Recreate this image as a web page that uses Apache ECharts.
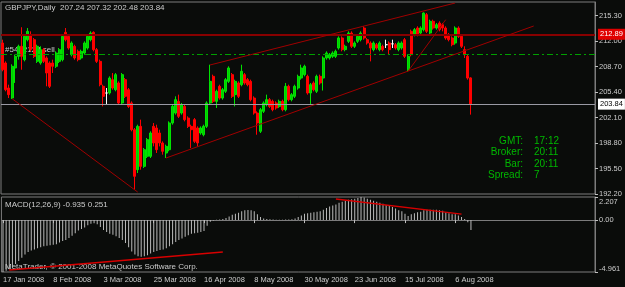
<!DOCTYPE html>
<html>
<head>
<meta charset="utf-8">
<script src="https://cdn.jsdelivr.net/npm/echarts@6/dist/echarts.min.js"></script>
<style>
  html, body { margin: 0; padding: 0; background: #0a0c0a; }
  #main { width: 625px; height: 287px; }
</style>
</head>
<body>
<div id="main"></div>
<script>
// x axis tick labels, one every 16 daily bars
const tickLabels = ["17 Jan 2008", "8 Feb 2008", "3 Mar 2008", "25 Mar 2008", "16 Apr 2008",
  "8 May 2008", "30 May 2008", "23 Jun 2008", "15 Jul 2008", "6 Aug 2008"]
const priceTicks = [192.20, 195.50, 198.80, 202.10, 205.40, 208.70, 212.00, 215.30]
const macdTicks = [-4.961, 0, 2.207]

// daily GBPJPY bars
const open = [211.76,209.17,205.93,204.63,208.52,210.03,211.33,209.60,212.19,212.84,
  212.19,209.38,209.17,210.90,209.82,209.17,209.17,208.74,209.38,209.60,
  213.14,212.62,210.25,211.33,210.68,209.82,210.46,211.11,212.19,213.14,
  210.90,209.38,206.15,205.28,205.28,207.01,205.71,206.58,203.99,207.01,
  205.71,203.99,200.53,195.35,200.96,195.78,197.08,197.08,200.96,200.75,
  200.10,198.81,197.51,197.94,201.40,202.69,204.20,202.69,203.55,202.04,
  200.96,201.83,200.75,200.10,199.88,200.96,203.99,207.44,204.20,206.15,
  204.63,205.50,206.79,207.66,205.07,206.58,206.36,207.66,207.01,206.79,
  204.63,202.69,200.32,202.91,203.77,204.42,204.20,203.99,203.55,204.20,
  203.12,206.15,204.42,204.85,205.93,207.22,207.66,207.44,205.28,206.58,
  205.50,207.44,207.22,209.82,209.82,210.03,210.03,211.11,212.41,210.90,
  211.97,213.05,211.33,211.97,212.19,213.70,212.19,211.76,210.90,211.54,
  210.90,211.33,211.54,211.76,211.65,211.54,210.90,211.11,212.19,208.30,
  213.27,212.84,213.70,213.05,213.49,215.43,213.05,214.57,213.70,214.35,
  214.13,213.70,212.84,212.41,211.76,213.70,212.62,210.90,210.03,207.24]
const close = [208.30,205.71,205.07,208.74,210.03,211.33,210.03,212.62,213.27,210.90,
  210.03,211.33,210.90,209.38,207.87,206.15,208.74,210.46,210.90,212.62,
  212.19,211.11,211.76,209.82,209.60,210.68,211.76,212.62,213.05,210.90,
  209.38,206.36,204.85,205.28,207.22,205.93,207.66,203.99,207.66,204.85,
  203.55,200.53,194.49,200.96,195.78,197.94,199.24,200.10,198.81,197.94,
  198.81,197.73,198.37,201.40,203.55,204.42,202.26,203.77,201.83,200.96,
  200.53,199.02,198.81,200.75,200.96,203.99,206.79,204.20,205.50,204.63,
  205.71,207.01,208.52,204.85,206.79,204.85,208.09,206.58,206.36,204.42,
  202.69,201.40,203.12,203.99,204.42,203.55,203.12,203.34,204.20,203.12,
  206.15,204.42,205.07,206.15,207.44,208.52,208.74,205.28,206.36,205.71,
  207.44,206.58,209.82,210.46,210.25,210.46,210.68,212.41,210.90,211.33,
  213.05,211.33,211.76,212.62,213.05,212.41,211.76,211.11,211.76,211.11,
  211.76,210.90,211.54,210.90,211.65,211.11,211.76,211.76,210.03,210.03,
  210.25,213.49,212.84,213.70,215.64,213.27,214.57,213.70,214.13,213.49,
  213.70,212.41,212.19,211.54,213.70,212.62,211.33,210.25,207.22,203.84]
const low = [208.09,205.50,204.63,204.50,206.58,209.60,208.30,209.38,211.97,210.68,
  209.82,209.17,208.95,209.17,206.15,205.93,207.87,208.52,209.17,209.38,
  211.97,210.90,210.03,209.60,209.38,209.60,210.25,210.90,211.97,210.68,
  209.17,206.15,203.55,203.77,205.07,205.71,205.50,203.77,203.77,204.63,
  203.34,200.32,192.76,194.92,195.35,195.57,196.86,196.86,198.37,197.51,
  198.37,197.30,196.86,197.73,201.18,202.48,202.04,202.48,201.61,200.75,
  198.16,198.81,198.37,199.88,199.67,200.75,203.77,203.99,203.34,204.42,
  204.42,205.28,206.58,204.63,203.55,204.63,206.15,206.36,206.15,204.20,
  202.48,199.88,200.10,202.69,203.55,203.34,202.91,203.12,203.34,202.91,
  202.91,204.20,204.20,204.63,205.71,207.01,207.44,205.07,203.77,205.50,
  205.28,206.36,205.60,209.60,209.60,209.82,209.82,210.90,210.68,210.68,
  211.76,211.11,211.11,211.76,211.97,212.19,211.54,209.38,210.68,210.90,
  210.68,210.68,211.11,210.25,211.11,210.90,210.68,210.90,209.82,208.09,
  210.03,212.62,212.62,212.84,213.27,213.05,212.84,213.49,213.49,213.27,
  213.27,212.19,211.97,211.33,211.54,212.41,211.11,209.82,207.01,202.48]
const high = [212.19,209.38,206.36,209.00,210.25,211.54,213.80,212.84,213.70,213.27,
  212.41,211.54,211.33,211.11,210.03,209.38,209.60,210.68,211.11,212.84,
  213.70,212.84,211.97,211.54,210.90,210.90,211.97,212.84,213.27,213.27,
  211.11,209.60,206.36,205.93,207.44,207.87,207.87,206.79,207.87,207.22,
  205.93,204.20,200.75,201.18,201.83,198.16,199.45,200.32,201.40,201.18,
  200.53,199.02,198.59,201.61,203.77,204.85,205.07,203.99,203.77,202.26,
  201.18,202.04,200.96,200.96,201.18,204.20,208.95,207.66,205.71,206.36,
  205.93,207.22,208.74,207.87,207.01,206.79,208.95,207.87,207.22,207.01,
  204.85,202.91,203.34,204.20,205.07,204.63,204.42,204.20,204.42,204.42,
  206.58,206.36,205.28,206.36,207.66,208.95,208.95,207.66,206.58,206.79,
  207.66,207.66,210.03,210.68,210.46,210.68,210.90,212.62,212.62,211.54,
  213.27,213.27,211.97,212.84,213.27,213.92,212.41,211.97,211.97,211.76,
  211.97,211.54,212.19,211.97,212.19,211.76,211.97,211.97,212.41,210.25,
  213.49,213.70,213.92,213.92,215.72,215.64,214.78,214.78,214.35,214.57,
  214.35,213.92,213.05,212.62,213.92,213.92,212.84,211.33,210.25,207.32]

// MACD(12,26,9) histogram
const macd = [-4.96,-4.85,-4.70,-4.50,-4.20,-3.90,-3.60,-3.30,-3.05,-2.90,
  -2.80,-2.70,-2.60,-2.50,-2.45,-2.40,-2.35,-2.30,-2.15,-2.00,
  -1.90,-1.70,-1.50,-1.25,-1.00,-0.85,-0.70,-0.50,-0.35,-0.30,
  -0.40,-0.65,-0.95,-1.15,-1.30,-1.40,-1.55,-1.70,-1.90,-2.20,
  -2.60,-3.00,-3.30,-3.45,-3.50,-3.45,-3.35,-3.20,-3.05,-2.95,
  -2.85,-2.80,-2.70,-2.50,-2.30,-2.10,-1.90,-1.75,-1.60,-1.45,
  -1.30,-1.25,-1.20,-1.15,-1.05,-0.55,-0.15,-0.05,0.03,0.05,
  0.10,0.20,0.35,0.50,0.60,0.70,0.85,0.95,0.96,0.95,
  0.85,0.55,0.30,0.15,0.10,0.08,0.05,0.04,0.04,0.03,
  0.06,0.06,0.08,0.15,0.30,0.45,0.60,0.65,0.70,0.75,
  0.80,0.85,1.00,1.15,1.30,1.40,1.50,1.65,1.75,1.85,
  1.95,2.00,2.05,2.10,2.20,2.15,2.05,1.95,1.85,1.75,
  1.65,1.55,1.45,1.35,1.25,1.10,0.95,0.85,0.60,0.40,
  0.55,0.65,0.75,0.80,0.95,1.00,1.00,1.00,0.98,0.95,
  0.90,0.75,0.65,0.55,0.55,0.45,0.30,0.10,-0.20,-0.935]

const redLevel = 212.89
const orderLevel = 210.33
const lastPrice = 203.84
const priceMin = 192.2, priceMax = 217.07

const N = 189 // bar slots across the window (chart shift leaves empty room)
const cats = Array.from({ length: N }, (_, i) => String(i))
const showTick = (i) => i % 16 === 0 && i / 16 < tickLabels.length

const candles = open.map((o, i) => {
  const item = { value: [o, close[i], low[i], high[i]] }
  if (o === close[i]) item.itemStyle = { color: "#ffffff", borderColor: "#ffffff" }
  return item
})

const FONT = '"Liberation Sans", Arial, sans-serif'
const txt = "#cccccc"
const green = "#00b800"
const trend = { color: "#a00000", width: 1, type: "solid" }

const myChart = echarts.init(document.getElementById("main"), null, { renderer: "canvas" })

// small helper for the fixed texts of the terminal window
const label = (x, y, text, size, fill, align = "left") => ({
  type: "text", x, y,
  style: { text, fill, font: size + "px " + FONT, textAlign: align, align, textVerticalAlign: "middle", verticalAlign: "middle" },
})

myChart.setOption({
  backgroundColor: "#0a0c0a",
  animation: false,
  grid: [
    { left: 1, right: 30, top: 2, height: 192, show: true, borderColor: "#7c7c7c", borderWidth: 1 },
    { left: 1, right: 30, top: 197, height: 75, show: true, borderColor: "#7c7c7c", borderWidth: 1 },
  ],
  xAxis: [
    {
      type: "category", gridIndex: 0, data: cats, boundaryGap: true,
      axisLine: { show: false }, axisTick: { show: false }, axisLabel: { show: false },
    },
    {
      type: "category", gridIndex: 1, data: cats, boundaryGap: true,
      axisLine: { show: true, lineStyle: { color: "#7c7c7c" } },
      axisTick: { show: true, interval: (i) => showTick(i), alignWithLabel: true, length: 3, lineStyle: { color: "#c0c0c0" } },
      axisLabel: {
        show: true, interval: (i) => showTick(i), formatter: (v, i) => tickLabels[i / 16] || "",
        color: txt, fontSize: 7.5, fontFamily: FONT, align: "left", margin: 4,
      },
    },
  ],
  yAxis: [
    {
      type: "value", gridIndex: 0, position: "right", min: priceMin, max: priceMax,
      splitLine: { show: false },
      axisLine: { show: true, lineStyle: { color: "#7c7c7c" } },
      axisTick: { show: true, customValues: priceTicks, length: 3, lineStyle: { color: "#c0c0c0" } },
      axisLabel: { customValues: priceTicks, formatter: (v) => v.toFixed(2), color: txt, fontSize: 7.5, fontFamily: FONT, margin: 4 },
    },
    {
      type: "value", gridIndex: 1, position: "right", min: -4.961, max: 2.207,
      splitLine: { show: false },
      axisLine: { show: true, lineStyle: { color: "#7c7c7c" } },
      axisTick: { show: true, customValues: macdTicks, length: 3, lineStyle: { color: "#c0c0c0" } },
      axisLabel: {
        customValues: macdTicks, color: txt, fontSize: 7.5, fontFamily: FONT, margin: 4,
        formatter: (v) => (v === 0 ? "0.00" : v > 0 ? "{dn|" + v.toFixed(3) + "}" : "{up|" + v.toFixed(3) + "}"),
        rich: {
          dn: { padding: [10, 0, 0, 0], color: txt, fontSize: 7.5, fontFamily: FONT },
          up: { padding: [0, 0, 7, 0], color: txt, fontSize: 7.5, fontFamily: FONT },
        },
      },
    },
  ],
  series: [
    {
      name: "GBPJPY", type: "candlestick", xAxisIndex: 0, yAxisIndex: 0,
      data: candles, barWidth: 2.5,
      itemStyle: { color: "#00cc00", color0: "#ff0000", borderColor: "#00e400", borderColor0: "#ff0000", borderWidth: 1 },
      markLine: {
        silent: true, symbol: "none", animation: false,
        label: { show: false },
        data: [
          {
            yAxis: redLevel, lineStyle: { color: "#880000", width: 2, type: "solid" },
            label: { show: true, position: "end", distance: 3, formatter: "212.89", backgroundColor: "#e00000",
              color: "#ffffff", fontSize: 7.5, fontFamily: FONT, padding: [2, 2, 1, 2] },
          },
          { yAxis: orderLevel, lineStyle: { color: "#00a000", width: 1, type: [6, 3, 2, 3] } },
          {
            yAxis: lastPrice, lineStyle: { color: "#9a9aa4", width: 1, type: "solid" },
            label: { show: true, position: "end", distance: 3, formatter: "203.84", backgroundColor: "#ffffff",
              color: "#000000", fontSize: 7.5, fontFamily: FONT, padding: [2, 2, 1, 2] },
          },
          [{ coord: ["3", 204.55], lineStyle: trend }, { coord: ["43", 192.45] }],
          [{ coord: ["52", 196.86], lineStyle: trend }, { coord: ["169", 213.96] }],
          [{ coord: ["66", 208.91], lineStyle: trend }, { coord: ["144", 216.94] }],
          [{ coord: ["129", 208.09], lineStyle: trend }, { coord: ["141", 214.78] }],
        ],
      },
    },
    {
      name: "MACD", type: "bar", xAxisIndex: 1, yAxisIndex: 1,
      data: macd, barWidth: 1, itemStyle: { color: "#bcbcbc" },
      markLine: {
        silent: true, symbol: "none", animation: false, label: { show: false },
        data: [
          [{ coord: ["2", -4.78], lineStyle: { color: "#d80000", width: 1.5, type: "solid" } }, { coord: ["70", -3.06] }],
          [{ coord: ["106", 2.01], lineStyle: { color: "#d80000", width: 1.5, type: "solid" } }, { coord: ["146", 0.57] }],
        ],
      },
    },
  ],
  graphic: [
    label(5, 8, "GBPJPY,Daily  207.24 207.32 202.48 203.84", 8, txt),
    label(5, 50, "#5442124 sell", 8, txt),
    label(5, 205, "MACD(12,26,9) -0.935 0.251", 8, txt),
    label(5, 267, "MetaTrader, © 2001-2008 MetaQuotes Software Corp.", 8, txt),
    label(523, 141, "GMT:", 10, green, "right"),
    label(523, 152.5, "Broker:", 10, green, "right"),
    label(523, 164, "Bar:", 10, green, "right"),
    label(523, 175.5, "Spread:", 10, green, "right"),
    label(534, 141, "17:12", 10, green),
    label(534, 152.5, "20:11", 10, green),
    label(534, 164, "20:11", 10, green),
    label(534, 175.5, "7", 10, green),
  ],
})
</script>
</body>
</html>
